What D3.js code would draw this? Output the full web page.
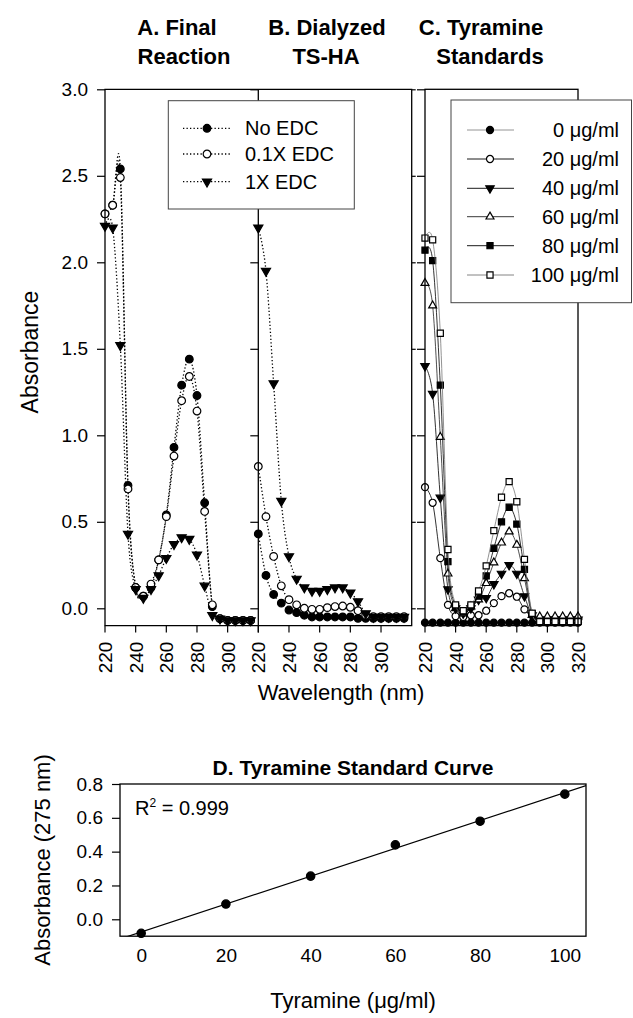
<!DOCTYPE html>
<html><head><meta charset="utf-8">
<script src="https://cdn.jsdelivr.net/npm/d3@7"></script>
<style>
body{margin:0;background:#fff}
svg{display:block;background:#fff}
text{font-family:"Liberation Sans",Arial,Helvetica,sans-serif;fill:#000}
</style>
</head><body>
<svg id="c" width="633" height="1018"></svg>
<script>
// ---------------- DATA ----------------
const wavelengthsAB = [220,225,230,235,240,245,250,255,260,265,270,275,280,285,290,295,300,305,310,315];
const wavelengthsC  = [220,225,230,235,240,245,250,255,260,265,270,275,280,285,290,295,300,305,310,315,320];
const xTicksAB = [220,240,260,280,300];
const xTicksC  = [220,240,260,280,300,320];
const yTicksTop = [0.0,0.5,1.0,1.5,2.0,2.5,3.0];

// Panel A: Final Reaction
const A_noEDC = [2.28,2.33,2.54,0.71,0.12,0.07,0.12,0.28,0.54,0.93,1.29,1.44,1.23,0.61,0.01,-0.06,-0.07,-0.07,-0.07,-0.07];
const A_01xEDC = [2.28,2.33,2.49,0.69,0.12,0.07,0.14,0.28,0.53,0.88,1.20,1.34,1.14,0.56,0.02,-0.06,-0.07,-0.07,-0.07,-0.07];
const A_1xEDC = [2.21,2.20,1.52,0.43,0.11,0.06,0.11,0.19,0.29,0.37,0.41,0.40,0.31,0.13,-0.04,-0.06,-0.07,-0.07,-0.07,-0.07];

// Panel B: Dialyzed TS-HA
const B_noEDC = [0.43,0.19,0.08,0.03,-0.01,-0.025,-0.04,-0.05,-0.05,-0.05,-0.05,-0.05,-0.05,-0.058,-0.058,-0.058,-0.058,-0.058,-0.058,-0.058];
const B_01xEDC = [0.82,0.53,0.30,0.13,0.05,0.02,0.0,-0.006,-0.006,0.004,0.01,0.013,0.006,-0.014,-0.04,-0.048,-0.048,-0.048,-0.048,-0.048];
const B_1xEDC = [2.20,1.95,1.30,0.62,0.30,0.17,0.12,0.10,0.10,0.11,0.12,0.12,0.09,0.04,-0.03,-0.05,-0.05,-0.05,-0.05,-0.05];

// Panel C: Tyramine Standards
const C_0   = [-0.083,-0.083,-0.083,-0.083,-0.083,-0.083,-0.083,-0.083,-0.083,-0.083,-0.083,-0.083,-0.083,-0.083,-0.083,-0.083,-0.083,-0.083,-0.083,-0.083,-0.083];
const C_20  = [0.70,0.61,0.29,0.02,-0.045,-0.05,-0.04,-0.04,-0.014,0.03,0.07,0.087,0.067,-0.006,-0.04,-0.07,-0.07,-0.07,-0.07,-0.07,-0.07];
const C_40  = [1.40,1.24,0.64,0.11,0.0,-0.03,0.0,0.05,0.06,0.14,0.20,0.25,0.20,0.07,-0.04,-0.065,-0.065,-0.065,-0.065,-0.065,-0.065];
const C_60  = [1.88,1.75,0.99,0.20,0.0,-0.03,0.01,0.05,0.145,0.264,0.379,0.443,0.366,0.173,-0.039,-0.048,-0.048,-0.048,-0.048,-0.048,-0.048];
const C_80  = [2.07,2.01,1.29,0.27,0.01,-0.02,0.01,0.07,0.187,0.347,0.50,0.584,0.487,0.225,-0.03,-0.075,-0.075,-0.075,-0.075,-0.075,-0.075];
const C_100 = [2.14,2.13,1.59,0.34,0.02,-0.014,0.02,0.10,0.245,0.449,0.642,0.732,0.616,0.283,-0.029,-0.077,-0.077,-0.077,-0.077,-0.077,-0.077];

// Panel D: standard curve
const concD = [0,20,40,60,80,100];
const absD  = [-0.083,0.09,0.255,0.44,0.58,0.74];
const xTicksD = [0,20,40,60,80,100];
const yTicksD = [0.0,0.2,0.4,0.6,0.8];

const legendA = ["No EDC","0.1X EDC","1X EDC"];
const legendC = ["0 \u03bcg/ml","20 \u03bcg/ml","40 \u03bcg/ml","60 \u03bcg/ml","80 \u03bcg/ml","100 \u03bcg/ml"];

// ---------------- DRAW ----------------
const svg = d3.select('#c');
svg.append('rect').attr('width',633).attr('height',1018).attr('fill','#fff');

const plotTop = 89.3, plotBot = 625.6;
const yTop = d3.scaleLinear().domain([-0.1,3.0]).range([plotBot,plotTop]);
const xA = d3.scaleLinear().domain([220,320]).range([105,258.3]);
const xB = d3.scaleLinear().domain([220,320]).range([258.3,411.7]);
const xC = d3.scaleLinear().domain([220,320]).range([425,578]);
const curve = d3.curveCardinal.tension(0);

function marker(g, type, filled, cx, cy, sc){
  sc = sc || 1;
  let sym, rot = 0, size;
  if(type==='circle'){ sym = d3.symbolCircle; size = 46*sc; }
  else if(type==='tdown'){ sym = d3.symbolTriangle; size = 36*sc; rot = 180; }
  else if(type==='tup'){ sym = d3.symbolTriangle; size = 32*sc; }
  else { sym = d3.symbolSquare; size = 44*sc; }
  g.append('path').attr('d', d3.symbol().type(sym).size(size)())
    .attr('transform', `translate(${cx},${cy}) rotate(${rot})`)
    .attr('fill', filled ? '#000' : '#fff')
    .attr('stroke','#000').attr('stroke-width', 1.2);
}

function series(g, x, y, xs, ys, type, filled, lineStyle, sc){
  const pts = xs.map((w,i)=>[x(w), y(ys[i])]);
  const p = g.append('path').attr('d', d3.line().curve(curve)(pts))
    .attr('fill','none').attr('stroke', lineStyle.color).attr('stroke-width', lineStyle.width);
  if(lineStyle.dash) p.attr('stroke-dasharray', lineStyle.dash);
  pts.forEach(q=>marker(g, type, filled, q[0], q[1], sc));
}

const dotted = {color:'#000', width:1.3, dash:'1.3,2.2'};
const gA = svg.append('g'), gB = svg.append('g'), gC = svg.append('g');

// Panel A
series(gA, xA, yTop, wavelengthsAB, A_noEDC, 'circle', true, dotted);
series(gA, xA, yTop, wavelengthsAB, A_01xEDC, 'circle', false, dotted);
series(gA, xA, yTop, wavelengthsAB, A_1xEDC, 'tdown', true, dotted);
// Panel B
series(gB, xB, yTop, wavelengthsAB, B_noEDC, 'circle', true, dotted);
series(gB, xB, yTop, wavelengthsAB, B_01xEDC, 'circle', false, dotted);
series(gB, xB, yTop, wavelengthsAB, B_1xEDC, 'tdown', true, dotted);
// Panel C
const cSeries = [
  [C_0,'circle',true,'#888'],[C_20,'circle',false,'#000'],[C_40,'tdown',true,'#000'],
  [C_60,'tup',false,'#222'],[C_80,'square',true,'#000'],[C_100,'square',false,'#777']
];
cSeries.forEach(s=>series(gC, xC, yTop, wavelengthsC, s[0], s[1], s[2], {color:s[3], width:0.8}, 0.85));

// Frames
svg.append('path').attr('d',`M105,${plotTop}H411.7V${plotBot}H105Z`).attr('fill','none').attr('stroke','#000').attr('stroke-width',1.3);
svg.append('line').attr('x1',258.3).attr('x2',258.3).attr('y1',plotTop).attr('y2',plotBot).attr('stroke','#000').attr('stroke-width',1.3);
svg.append('rect').attr('x',425).attr('y',plotTop).attr('width',153).attr('height',plotBot-plotTop).attr('fill','none').attr('stroke','#000').attr('stroke-width',1.3);

function styleAxis(g, fs){
  g.select('.domain').remove();
  g.selectAll('line').attr('stroke','#000').attr('stroke-width',1.2);
  g.selectAll('text').attr('font-size', fs).attr('font-family','"Liberation Sans",Arial,sans-serif').attr('fill','#000');
}
// Y axes top
styleAxis(svg.append('g').attr('transform','translate(105,0)')
  .call(d3.axisLeft(yTop).tickValues(yTicksTop).tickSize(8).tickPadding(9).tickFormat(d3.format('.1f'))), 19);
styleAxis(svg.append('g').attr('transform','translate(258.3,0)')
  .call(d3.axisLeft(yTop).tickValues(yTicksTop).tickSize(8).tickFormat('')), 19);
styleAxis(svg.append('g').attr('transform','translate(411.7,0)')
  .call(d3.axisRight(yTop).tickValues(yTicksTop).tickSize(4).tickFormat('')), 19);
styleAxis(svg.append('g').attr('transform','translate(425,0)')
  .call(d3.axisLeft(yTop).tickValues(yTicksTop).tickSize(8).tickFormat('')), 19);

// X axes top (ticks + rotated labels)
function xAxisRot(x, ticks, extraTicks){
  const g = svg.append('g');
  ticks.concat(extraTicks||[]).forEach(t=>{
    g.append('line').attr('x1',x(t)).attr('x2',x(t)).attr('y1',plotBot).attr('y2',plotBot+7).attr('stroke','#000').attr('stroke-width',1.2);
  });
  ticks.forEach(t=>{
    g.append('text').attr('transform',`translate(${x(t)+7},${plotBot+16}) rotate(-90)`)
      .attr('text-anchor','end').attr('font-size',19).text(t);
  });
}
xAxisRot(xA, xTicksAB, [320]);
xAxisRot(xB, xTicksAB);
xAxisRot(xC, xTicksC);

// Axis titles
svg.append('text').attr('transform','translate(38,352) rotate(-90)').attr('text-anchor','middle').attr('font-size',23).text('Absorbance');
svg.append('text').attr('x',341).attr('y',700).attr('text-anchor','middle').attr('font-size',22).text('Wavelength (nm)');

// Panel titles
const titles = [[177,35,'A. Final'],[184,64,'Reaction'],[327,35,'B. Dialyzed'],[326,64,'TS-HA'],[481,35,'C. Tyramine'],[490,64,'Standards']];
titles.forEach(t=>svg.append('text').attr('x',t[0]).attr('y',t[1]).attr('text-anchor','middle')
  .attr('font-size',22).attr('font-weight','bold').text(t[2]));

// Legend A
const lgA = svg.append('g');
lgA.append('rect').attr('x',168.3).attr('y',100.7).attr('width',186).attr('height',108.3).attr('fill','#fff').attr('stroke','#444').attr('stroke-width',1);
const lgAy = [128.3,154,181.7];
const lgAm = [['circle',true],['circle',false],['tdown',true]];
legendA.forEach((name,i)=>{
  lgA.append('line').attr('x1',183).attr('x2',231).attr('y1',lgAy[i]).attr('y2',lgAy[i]).attr('stroke','#000').attr('stroke-width',1.3).attr('stroke-dasharray','1.3,2.2');
  marker(lgA, lgAm[i][0], lgAm[i][1], 207, lgAy[i]);
  lgA.append('text').attr('x',245).attr('y',lgAy[i]+7).attr('font-size',20).text(name);
});

// Legend C
const lgC = svg.append('g');
lgC.append('rect').attr('x',451).attr('y',100).attr('width',180.5).attr('height',202.7).attr('fill','#fff').attr('stroke','#444').attr('stroke-width',1);
const lgCy = [130,159,188.3,216.7,245.7,275];
cSeries.forEach((s,i)=>{
  lgC.append('line').attr('x1',467).attr('x2',514).attr('y1',lgCy[i]).attr('y2',lgCy[i]).attr('stroke',s[3]).attr('stroke-width',0.9);
  marker(lgC, s[1], s[2], 490, lgCy[i], 0.85);
  lgC.append('text').attr('x',619).attr('y',lgCy[i]+7).attr('text-anchor','end').attr('font-size',20).text(legendC[i]);
});

// ---------------- Panel D ----------------
const xD = d3.scaleLinear().domain([-5,105]).range([120,586]);
const yD = d3.scaleLinear().domain([-0.1,0.8]).range([936.2,784]);
svg.append('defs').append('clipPath').attr('id','clipD').append('rect')
  .attr('x',120).attr('y',784).attr('width',466).attr('height',152.2);
const mx = d3.mean(concD), my = d3.mean(absD);
const slope = d3.sum(concD.map((c,i)=>(c-mx)*(absD[i]-my))) / d3.sum(concD.map(c=>(c-mx)*(c-mx)));
const icpt = my - slope*mx;
svg.append('line').attr('clip-path','url(#clipD)')
  .attr('x1',xD(-5)).attr('y1',yD(icpt+slope*-5)).attr('x2',xD(105)).attr('y2',yD(icpt+slope*105))
  .attr('stroke','#000').attr('stroke-width',1.2);
concD.forEach((c,i)=>marker(svg, 'circle', true, xD(c), yD(absD[i]), 1.2));
svg.append('rect').attr('x',120).attr('y',784).attr('width',466).attr('height',152.2).attr('fill','none').attr('stroke','#000').attr('stroke-width',1.3);
styleAxis(svg.append('g').attr('transform','translate(120,0)')
  .call(d3.axisLeft(yD).tickValues(yTicksD).tickSize(8).tickPadding(9).tickFormat(d3.format('.1f'))), 19);
styleAxis(svg.append('g').attr('transform','translate(0,936.2)')
  .call(d3.axisBottom(xD).tickValues(xTicksD).tickSize(0).tickPadding(12).tickFormat(d3.format('d'))), 19);

const r2 = svg.append('text').attr('x',135).attr('y',815).attr('font-size',20);
r2.append('tspan').text('R');
r2.append('tspan').attr('dy',-8).attr('font-size',12).text('2');
r2.append('tspan').attr('dy',8).text(' = 0.999');

svg.append('text').attr('x',353).attr('y',775).attr('text-anchor','middle').attr('font-size',21).attr('font-weight','bold').text('D. Tyramine Standard Curve');
svg.append('text').attr('transform','translate(50,860) rotate(-90)').attr('text-anchor','middle').attr('font-size',22).text('Absorbance (275 nm)');
svg.append('text').attr('x',353).attr('y',1008).attr('text-anchor','middle').attr('font-size',22).text('Tyramine (\u03bcg/ml)');
</script>
</body></html>
